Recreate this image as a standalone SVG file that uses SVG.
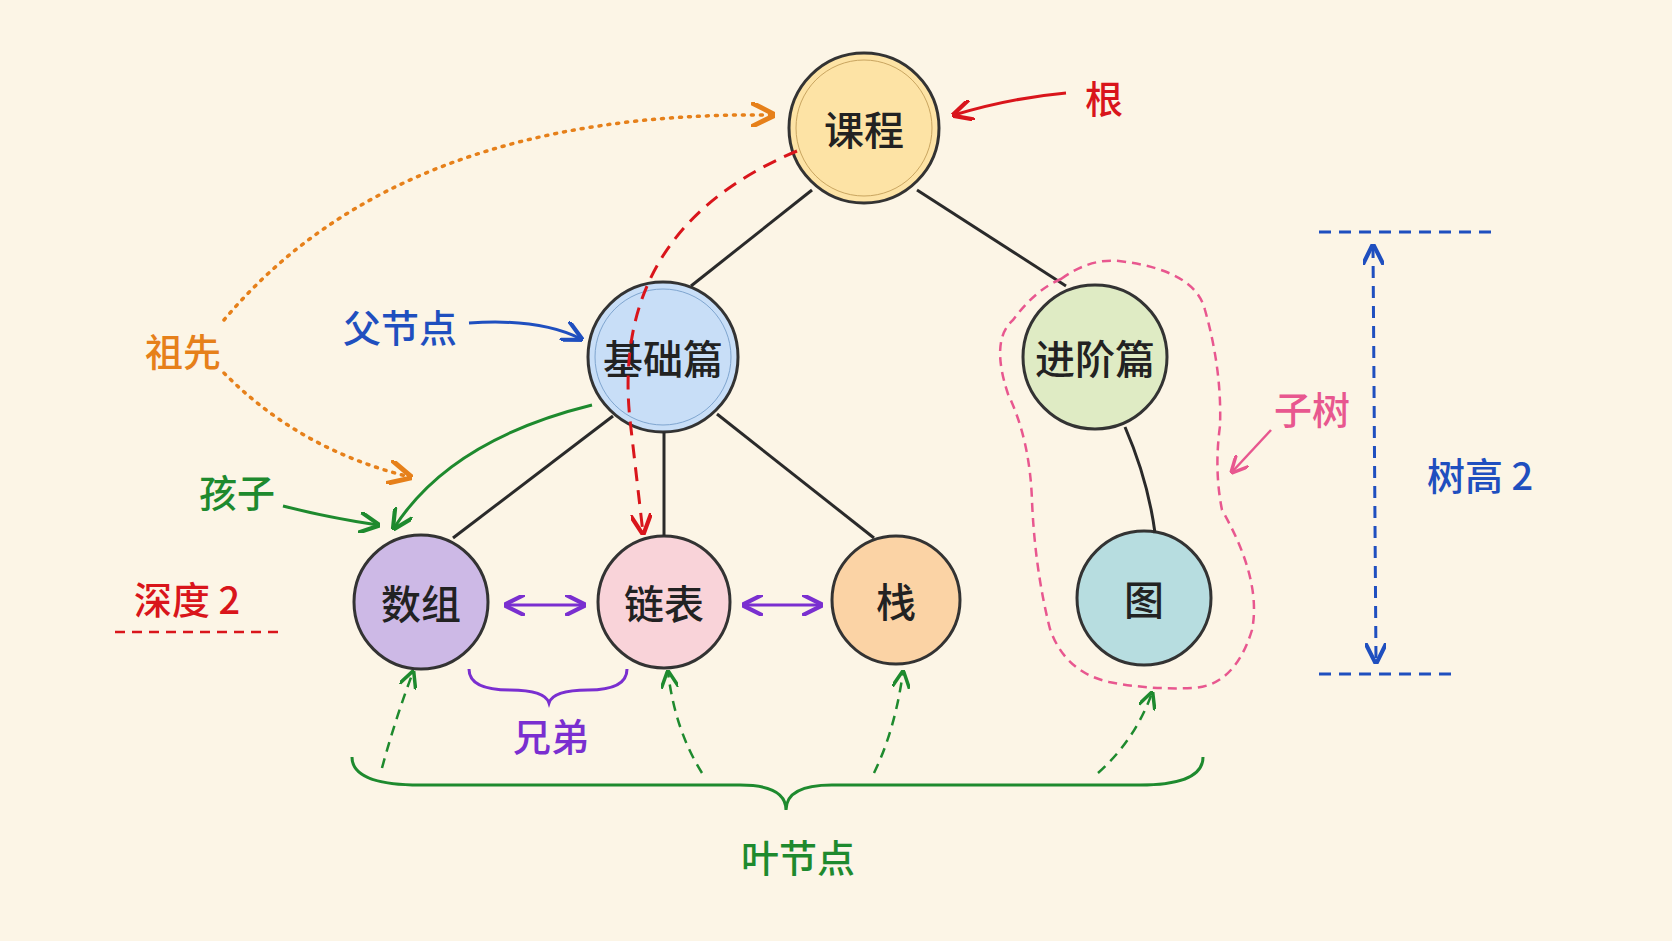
<svg xmlns="http://www.w3.org/2000/svg" width="1672" height="941" viewBox="0 0 1672 941">
<style>
text{font-family:"Noto Sans CJK SC","Noto Sans",sans-serif;text-anchor:middle;dominant-baseline:central}
.n{font-size:40px;fill:#222;font-weight:500}
.c{stroke:#333;stroke-width:3}
.e{stroke:#2a2a2a;stroke-width:3;fill:none}
.lbl{font-size:38px;font-weight:500}
</style>
<defs>
<marker id="ar" viewBox="0 0 10 10" refX="9" refY="5" markerWidth="7" markerHeight="7" orient="auto-start-reverse"><path d="M0,0 L10,5 L0,10" fill="none" stroke="context-stroke" stroke-width="2"/></marker>
</defs>
<rect width="1672" height="941" fill="#fcf5e6"/>
<g id="n-kecheng"><circle class="c" cx="864" cy="128" r="75" fill="#fde3a5"/><circle cx="864" cy="128" r="68" fill="none" stroke="#c9a560" stroke-width="1"/><text class="n" x="864" y="128">课程</text></g>
<g id="n-jichu"><circle class="c" cx="663" cy="357" r="75" fill="#c8def7"/><circle cx="663" cy="357" r="68" fill="none" stroke="#7fa5cf" stroke-width="1"/><text class="n" x="663" y="357">基础篇</text></g>
<g id="n-jinjie"><circle class="c" cx="1095" cy="357" r="72" fill="#dfebc4"/><text class="n" x="1095" y="357">进阶篇</text></g>
<g id="n-shuzu"><circle class="c" cx="421" cy="602" r="67" fill="#cdb9e6"/><text class="n" x="421" y="602">数组</text></g>
<g id="n-lianbiao"><circle class="c" cx="664" cy="602" r="66" fill="#f9d3d9"/><text class="n" x="664" y="602">链表</text></g>
<g id="n-zhan"><circle class="c" cx="896" cy="600" r="64" fill="#fbd3a5"/><text class="n" x="896" y="600">栈</text></g>
<g id="n-tu"><circle class="c" cx="1144" cy="598" r="67" fill="#b7dde0"/><text class="n" x="1144" y="598">图</text></g>
<g id="connectors">
<path class="e" d="M812,190 L691,286"/>
<path class="e" d="M917,190 L1066,286"/>
<path class="e" d="M613,416 L453,538"/>
<path class="e" d="M664,432 L664,536"/>
<path class="e" d="M717,414 L874,538"/>
<path class="e" d="M1125,427 Q1148,480 1155,533"/>
<path d="M1066,93 Q1010,98 954,115" stroke="#d9151b" stroke-width="3" fill="none" marker-end="url(#ar)"/>
<path d="M224,320 Q400,110 773,115" stroke="#e6801a" stroke-width="3.5" stroke-dasharray="2 7" stroke-linecap="round" fill="none" marker-end="url(#ar)"/>
<path d="M224,373 Q300,450 410,477" stroke="#e6801a" stroke-width="3.5" stroke-dasharray="2 7" stroke-linecap="round" fill="none" marker-end="url(#ar)"/>
<path d="M469,323 Q540,318 581,339" stroke="#1f4fbf" stroke-width="3" fill="none" marker-end="url(#ar)"/>
<path d="M283,506 Q330,518 378,525" stroke="#1e8a2e" stroke-width="3" fill="none" marker-end="url(#ar)"/>
<path d="M592,405 Q450,440 394,528" stroke="#1e8a2e" stroke-width="3" fill="none" marker-end="url(#ar)"/>
<path d="M797,151 Q610,230 630,420 L643,533" stroke="#d9151b" stroke-width="3" stroke-dasharray="14 9" fill="none" marker-end="url(#ar)"/>
<path d="M115,632 L279,632" stroke="#d9151b" stroke-width="2.5" stroke-dasharray="10 7"/>
<path d="M506,605 L584,605" stroke="#7a2fd0" stroke-width="3" marker-start="url(#ar)" marker-end="url(#ar)"/>
<path d="M744,605 L821,605" stroke="#7a2fd0" stroke-width="3" marker-start="url(#ar)" marker-end="url(#ar)"/>
<path d="M469,669 Q469,690 510,690 Q545,690 549,703 Q553,690 588,690 Q627,690 627,669" stroke="#7a2fd0" stroke-width="3" fill="none"/>
<path d="M352,757 Q352,785 420,785 L740,785 Q786,785 786,810 Q786,785 832,785 L1140,785 Q1203,785 1203,757" stroke="#1e8a2e" stroke-width="3" fill="none"/>
<g stroke="#1e8a2e" stroke-width="2.5" stroke-dasharray="10 7" fill="none">
<path d="M382,768 Q395,720 413,672" marker-end="url(#ar)"/>
<path d="M702,773 Q675,730 668,672" marker-end="url(#ar)"/>
<path d="M874,773 Q895,730 903,672" marker-end="url(#ar)"/>
<path d="M1098,773 Q1135,740 1152,693" marker-end="url(#ar)"/>
</g>
<path d="M1061,279 Q1090,258 1119,261 Q1195,270 1205,310 Q1222,370 1220,426 Q1214,470 1222,510 Q1262,580 1252,630 Q1235,685 1194,688 Q1150,690 1109,682 Q1065,672 1050,629 Q1035,570 1032,501 Q1030,440 1008,394 Q990,340 1013,320 Q1035,290 1061,279 Z" stroke="#e8578f" stroke-width="2.5" stroke-dasharray="9 6" fill="none"/>
<path d="M1271,430 L1232,472" stroke="#e8578f" stroke-width="2.5" marker-end="url(#ar)"/>
<path d="M1319,232 L1493,232 M1319,674 L1455,674" stroke="#1f4fbf" stroke-width="3" stroke-dasharray="12 8"/>
<path d="M1373,246 L1376,662" stroke="#1f4fbf" stroke-width="3" stroke-dasharray="12 8" fill="none" marker-start="url(#ar)" marker-end="url(#ar)"/>
</g>
<g id="labels">
<text class="lbl" x="1104" y="96" fill="#d9151b" font-size="46">根</text>
<text class="lbl" x="183" y="349" fill="#e6801a">祖先</text>
<text class="lbl" x="400" y="325" fill="#1f4fbf">父节点</text>
<text class="lbl" x="237" y="490" fill="#1e8a2e">孩子</text>
<text class="lbl" x="187" y="597" fill="#d9151b" font-size="44">深度 2</text>
<text class="lbl" x="551" y="734" fill="#7a2fd0">兄弟</text>
<text class="lbl" x="798" y="855" fill="#1e8a2e" font-size="46">叶节点</text>
<text class="lbl" x="1312" y="407" fill="#e8578f">子树</text>
<text class="lbl" x="1480" y="473" fill="#1f4fbf" font-size="46">树高 2</text>
</g>
</svg>
